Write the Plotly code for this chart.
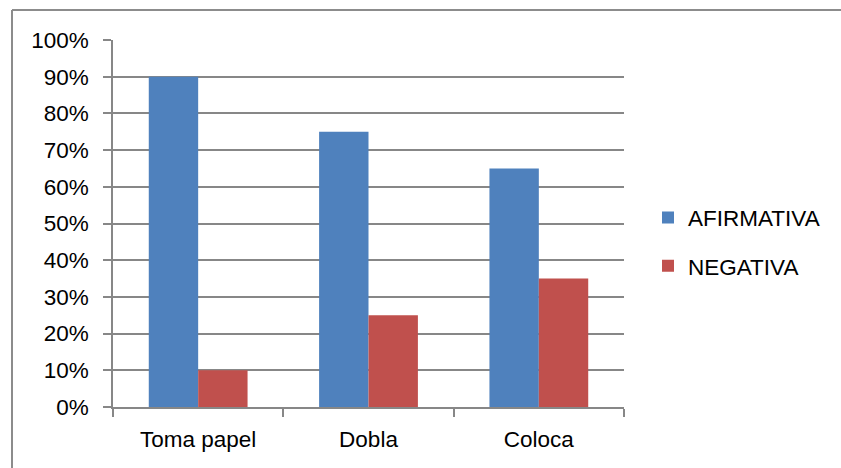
import plotly.graph_objects as go

categories = ["Toma papel", "Dobla", "Coloca"]
afirmativa = [0.90, 0.75, 0.65]
negativa = [0.10, 0.25, 0.35]
series_names = ["AFIRMATIVA", "NEGATIVA"]
y_ticks = [i / 10 for i in range(11)]

W, H = 841, 468
ML, MR, MT, MB = 113, 217, 40, 61
pw, ph = W - ML - MR, H - MT - MB

FONT = "Liberation Sans"
FS = 22.5
GRID = "#878787"

fig = go.Figure()
fig.add_trace(go.Bar(x=categories, y=afirmativa, name=series_names[0],
                     marker=dict(color="#4F81BD", line=dict(width=0)),
                     legendgroup="a"))
fig.add_trace(go.Bar(x=categories, y=negativa, name=series_names[1],
                     marker=dict(color="#C0504D", line=dict(width=0)),
                     legendgroup="b"))

fig.update_layout(
    width=W, height=H,
    margin=dict(l=ML, r=MR, t=MT, b=MB, pad=0),
    paper_bgcolor="white", plot_bgcolor="white",
    barmode="group", bargap=0.42, bargroupgap=0,
    font=dict(family=FONT, size=FS, color="black"),
    showlegend=True,
    legend=dict(x=(648 - ML) / pw, xanchor="left", y=0.45, yanchor="middle",
                traceorder="grouped", tracegroupgap=16,
                font=dict(family=FONT, size=FS, color="black"),
                bgcolor="rgba(0,0,0,0)"),
    xaxis=dict(type="category", tickson="boundaries", ticks="outside",
               ticklen=8, tickwidth=1.5, tickcolor=GRID,
               ticklabelstandoff=11,
               showline=True, linecolor=GRID, linewidth=1.5,
               showgrid=False, zeroline=False,
               tickfont=dict(family=FONT, size=FS, color="black")),
    yaxis=dict(range=[0, 1], tickvals=y_ticks, tickformat=".0%",
               ticks="outside", ticklen=8, tickwidth=1.5, tickcolor=GRID,
               ticklabelstandoff=10,
               showline=True, linecolor=GRID, linewidth=1.5,
               showgrid=True, gridcolor=GRID, gridwidth=1.5,
               zeroline=False,
               tickfont=dict(family=FONT, size=FS, color="black")),
)

# outer chart frame: only top and left edges fall inside the picture
fx0 = (12 - ML) / pw
fx1 = (W - ML) / pw
fy_top = (H - 10 - MB) / ph
fy_bot = -MB / ph
fig.add_shape(type="line", xref="paper", yref="paper",
              x0=fx0, x1=fx1, y0=fy_top, y1=fy_top,
              line=dict(color="#8c8c8c", width=2), layer="below")
fig.add_shape(type="line", xref="paper", yref="paper",
              x0=fx0, x1=fx0, y0=fy_top, y1=fy_bot,
              line=dict(color="#8c8c8c", width=2), layer="below")

fig.write_html("out.html", config={"displayModeBar": False},
               post_script=("document.body.style.margin='0';"
                            "document.body.style.overflow='hidden';"
                            "document.documentElement.style.overflow='hidden';"))
